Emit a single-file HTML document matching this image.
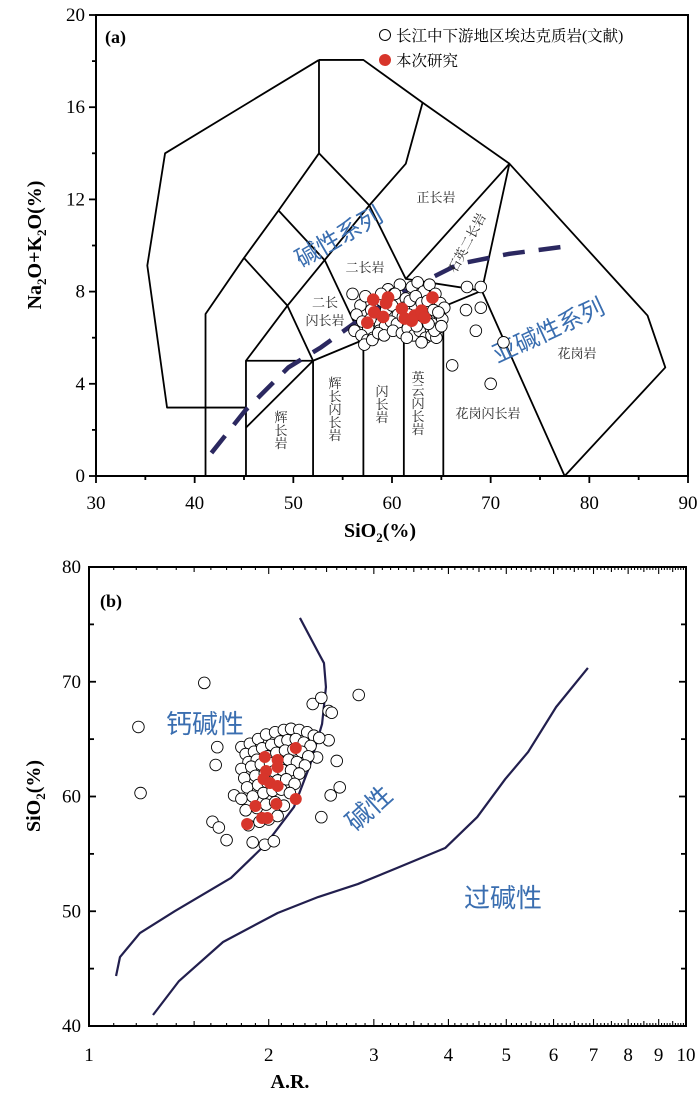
<!DOCTYPE html>
<html><head><meta charset="utf-8"><style>
body{margin:0;background:#fff;}
svg{display:block;}
.t{font-family:"Liberation Serif","Noto Serif CJK SC",serif;}
.cn{font-family:"Liberation Serif","Noto Serif CJK SC",serif;font-size:13px;fill:#222;}
.bl{font-family:"Liberation Sans","Noto Sans CJK SC",sans-serif;fill:#3a6eb0;}
</style></head><body>
<svg id="chart" width="700" height="1094" viewBox="0 0 700 1094" xmlns="http://www.w3.org/2000/svg">
<g id="pa"></g>
<g id="pb"></g>
</svg>
<script>
// ===== Panel (a) data =====
const aXTicks=[30,40,50,60,70,80,90];
const aYTicks=[0,4,8,12,16,20];
const aFieldLines=[
 [[52.6,18.05],[57.1,18.05],[63.1,16.2],[71.9,13.55],[85.9,6.96],[87.7,4.71],[77.5,0]],
 [[52.6,18.05],[37.0,14.0],[35.2,9.13],[37.2,2.97],[45.2,2.97]],
 [[52.6,18.05],[52.6,14.0]],
 [[52.6,14.0],[48.5,11.52],[45.0,9.46],[41.1,7.03],[41.1,0]],
 [[52.6,14.0],[57.7,11.74],[61.4,8.55],[69.1,8.04]],
 [[63.1,16.2],[61.4,13.55],[57.7,11.74]],
 [[71.9,13.55],[61.4,8.55]],
 [[71.9,13.55],[69.1,8.04],[77.5,0]],
 [[48.5,11.52],[53.2,9.35],[56.9,6.0]],
 [[57.7,11.74],[49.4,7.39],[45.2,5.0]],
 [[45.0,9.46],[49.4,7.39],[52.0,5.0]],
 [[52.0,5.0],[69.1,8.04]],
 [[45.2,0],[45.2,5.0],[52.0,5.0]],
 [[45.2,2.1],[52.0,5.0]],
 [[52.0,0],[52.0,5.0]],
 [[57.1,0],[57.1,5.9]],
 [[61.2,0],[61.2,6.63]],
 [[65.2,0],[65.2,7.35]]
];
const aDivSi=[41.7,45.1,49.5,52.8,57.5,61.4,66.8,71.9,77.1];
const aDivAlk=[1.0,2.83,4.71,5.58,7.03,8.04,9.2,9.64,9.93];
const aLitSi=[56.0,56.8,57.3,57.9,58.5,59.0,59.6,60.2,60.8,61.4,62.0,62.6,63.2,63.8,64.4,64.9,65.3,
 56.4,57.0,57.6,58.2,58.8,59.4,60.0,60.6,61.2,61.8,62.4,63.0,63.6,64.2,64.8,
 56.2,56.9,57.5,58.1,58.7,59.3,59.9,60.5,61.1,61.7,62.3,62.9,63.5,64.1,64.6,65.1,
 57.2,58.0,58.6,59.2,60.1,61.0,61.6,62.2,62.8,63.4,64.0,64.5,63.0,62.5,64.3,61.5,60.3,
 58.9,63.7,64.7,65.0,57.8,
 67.6,69.0,67.5,69.0,68.5,71.3,70.0,66.1];
const aLitAlk=[7.9,7.4,7.8,7.2,7.0,7.6,8.1,7.9,8.3,7.7,8.2,8.4,8.0,8.3,7.9,7.5,7.3,
 7.0,6.7,6.4,6.9,6.6,7.2,7.4,7.0,7.3,7.6,7.8,7.5,7.6,7.2,7.0,
 6.3,6.1,5.9,6.0,6.3,6.5,6.7,6.6,6.9,7.0,6.7,6.9,6.8,6.6,6.4,6.8,
 5.7,5.9,6.2,6.1,6.3,6.2,6.4,6.1,6.3,6.0,6.1,6.0,5.8,6.5,6.3,6.0,7.9,
 7.9,6.6,7.1,6.5,6.8,
 8.2,8.2,7.2,7.3,6.3,5.8,4.0,4.8];
const aNewSi=[58.1,59.6,59.4,58.2,57.5,59.1,61.0,61.3,62.3,63.0,63.3,64.1,62.0];
const aNewAlk=[7.65,7.74,7.5,7.1,6.65,6.9,7.26,6.83,6.96,7.17,6.87,7.74,6.74];

// ===== Panel (b) data =====
const bXTicks=[1,2,3,4,5,6,7,8,9,10];
const bYTicks=[40,50,60,70,80];
const bCurve1AR=[2.256,2.419,2.475,2.494,2.457,2.346,2.205,1.979,1.729,1.393,1.217,1.127,1.110];
const bCurve1Si=[75.56,72.59,71.63,69.54,66.32,62.75,59.09,55.86,52.9,50.02,48.1,46.01,44.36];
const bCurve2AR=[6.85,6.06,5.44,4.98,4.47,3.95,3.28,2.82,2.42,2.07,1.677,1.415,1.280];
const bCurve2Si=[71.2,67.8,63.88,61.52,58.21,55.51,53.77,52.37,51.24,49.85,47.32,43.92,40.96];
const bLitAR=[1.56,1.21,1.22,2.83,1.64,1.63,1.75,1.61,1.65,1.70,2.45,2.54,2.63,2.60,2.52,2.37,2.45,2.52,2.55,
 1.80,1.86,1.92,1.98,2.05,2.12,2.18,2.25,2.32,2.38,2.43,
 1.83,1.89,1.95,2.02,2.09,2.15,2.22,2.29,2.35,2.41,
 1.85,1.91,1.99,2.06,2.13,2.20,2.27,2.33,
 1.80,1.87,1.94,2.01,2.08,2.16,2.23,2.30,
 1.82,1.90,1.97,2.04,2.11,2.18,2.25,
 1.84,1.92,1.99,2.07,2.14,2.21,
 1.80,1.88,1.96,2.03,2.10,2.17,
 1.83,1.91,1.98,2.05,2.12,
 1.85,1.93,2.00,2.07,1.88,1.97,2.04];
const bLitSi=[69.9,66.06,60.3,68.85,64.3,62.75,60.1,57.8,57.3,56.2,58.2,60.1,60.8,63.1,64.9,68.06,68.6,67.45,67.3,
 64.3,64.6,65.0,65.4,65.6,65.8,65.9,65.8,65.6,65.3,65.1,
 63.7,63.9,64.2,64.5,64.8,64.9,65.0,64.7,64.4,63.4,
 63.0,63.2,63.5,63.8,64.0,64.1,63.9,63.5,
 62.4,62.6,62.8,62.9,63.1,63.2,63.0,62.7,
 61.6,61.8,62.0,62.2,62.3,62.3,62.0,
 60.8,61.0,61.2,61.4,61.5,61.1,
 59.8,60.0,60.3,60.5,60.6,60.3,
 58.8,59.0,59.3,59.5,59.2,
 57.5,57.8,58.0,58.3,56.0,55.8,56.1];
const bNewAR=[2.22,1.97,2.07,2.07,1.98,1.96,2.01,2.07,2.22,1.90,2.06,1.95,1.99,1.84];
const bNewSi=[64.23,63.44,63.18,62.57,62.22,61.52,61.18,60.92,59.78,59.17,59.35,58.13,58.13,57.6];

const NS='http://www.w3.org/2000/svg';
function mk(parent,tag,attrs,text){const e=document.createElementNS(NS,tag);for(const k in attrs)e.setAttribute(k,attrs[k]);if(text!==undefined)e.textContent=text;parent.appendChild(e);return e;}

// ===== Panel (a) =====
const A={l:96,r:688,t:15,b:476};
const ax=v=>A.l+(v-30)/60*(A.r-A.l);
const ay=v=>A.b-v/20*(A.b-A.t);
const pa=document.getElementById('pa');
aFieldLines.forEach(line=>{
 const p=mk(pa,'polyline',{points:line.map(q=>ax(q[0])+','+ay(q[1])).join(' '),fill:'none',stroke:'#000','stroke-width':1.8,'stroke-linejoin':'round'});
 
 
});
{const p=mk(pa,'polyline',{points:aDivSi.map((s,i)=>ax(s)+','+ay(aDivAlk[i])).join(' '),fill:'none',stroke:'#2b2860','stroke-width':4.5,'stroke-dasharray':'22 14'});
 
 }
const aLabels=[['正长岩',436,202,0],['二长岩',365,272,0],['二长',325,307,0],['闪长岩',325,325,0],['花岗岩',577,358,0],['花岗闪长岩',488,418,0]];
aLabels.forEach(l=>{const t=mk(pa,'text',{x:l[1],y:l[2],class:'cn','text-anchor':'middle'},l[0]);});
const aVLabels=[['辉长岩',280,430],['辉长闪长岩',334,409],['闪长岩',381,404],['英云闪长岩',417,403]];
aVLabels.forEach(l=>{const t=mk(pa,'text',{x:l[1],y:l[2],class:'cn','text-anchor':'middle','writing-mode':'tb','glyph-orientation-vertical':0,'font-size':14},l[0]);});
{const t=mk(pa,'text',{x:0,y:0,class:'cn','text-anchor':'middle',transform:'translate(471,245) rotate(-62)'},'石英二长岩');}
{const t=mk(pa,'text',{x:0,y:0,class:'bl','font-size':24,'text-anchor':'middle',transform:'translate(343,244) rotate(-30)'},'碱性系列');}
{const t=mk(pa,'text',{x:0,y:0,class:'bl','font-size':24,'text-anchor':'middle',transform:'translate(552,338) rotate(-25)'},'亚碱性系列');}
aLitSi.forEach((s,i)=>{const c=mk(pa,'circle',{cx:ax(s),cy:ay(aLitAlk[i]),r:5.8,fill:'#fff',stroke:'#000','stroke-width':0.9});});
aNewSi.forEach((s,i)=>{const c=mk(pa,'circle',{cx:ax(s),cy:ay(aNewAlk[i]),r:6.3,fill:'#d7352b'});});
{const f=mk(pa,'rect',{x:A.l,y:A.t,width:A.r-A.l,height:A.b-A.t,fill:'none',stroke:'#000','stroke-width':2});}
for(let v=30;v<=90;v+=5){mk(pa,'line',{x1:ax(v),x2:ax(v),y1:A.b,y2:A.b+(v%10==0?7:4),stroke:'#000','stroke-width':1.8});}
for(let v=0;v<=20;v+=2){mk(pa,'line',{x1:A.l-(v%4==0?7:4),x2:A.l,y1:ay(v),y2:ay(v),stroke:'#000','stroke-width':1.8});}
aXTicks.forEach(v=>{const t=mk(pa,'text',{x:ax(v),y:A.b+33,class:'t','font-size':19,'text-anchor':'middle'},v);});
aYTicks.forEach(v=>{const t=mk(pa,'text',{x:A.l-11,y:ay(v)+6,class:'t','font-size':19,'text-anchor':'end'},v);});
{const t=mk(pa,'text',{x:380,y:537,class:'t','font-size':20,'font-weight':'bold','text-anchor':'middle'});t.innerHTML='SiO<tspan font-size="13" dy="5">2</tspan><tspan dy="-5">(%)</tspan>';}
{const t=mk(pa,'text',{x:0,y:0,class:'t','font-size':20,'font-weight':'bold','text-anchor':'middle',transform:'translate(41,245) rotate(-90)'});t.innerHTML='Na<tspan font-size="13" dy="5">2</tspan><tspan dy="-5">O+K</tspan><tspan font-size="13" dy="5">2</tspan><tspan dy="-5">O(%)</tspan>';}
{const t=mk(pa,'text',{x:105,y:43,class:'t','font-size':18,'font-weight':'bold'},'(a)');}
{const g=mk(pa,'g',{});
 const c1=mk(g,'circle',{cx:385,cy:35,r:5.5,fill:'#fff',stroke:'#000','stroke-width':1});
 const t1=mk(g,'text',{x:396,y:41,class:'t','font-size':15.5},'长江中下游地区埃达克质岩(文献)');
 const c2=mk(g,'circle',{cx:385,cy:60,r:6,fill:'#d7352b'});
 const t2=mk(g,'text',{x:396,y:66,class:'t','font-size':15.5},'本次研究');}

// ===== Panel (b) =====
const B={l:89,r:686,t:567,b:1026};
const bx=v=>B.l+Math.log10(v)*(B.r-B.l);
const by=v=>B.b-(v-40)/40*(B.b-B.t);
const pb=document.getElementById('pb');
{const p=mk(pb,'polyline',{points:bCurve1AR.map((a,i)=>bx(a)+','+by(bCurve1Si[i])).join(' '),fill:'none',stroke:'#221f4e','stroke-width':2.2,'stroke-linejoin':'round'});}
{const p=mk(pb,'polyline',{points:bCurve2AR.map((a,i)=>bx(a)+','+by(bCurve2Si[i])).join(' '),fill:'none',stroke:'#221f4e','stroke-width':2.2,'stroke-linejoin':'round'});}
{const t=mk(pb,'text',{x:205,y:733,class:'bl','font-size':26,'text-anchor':'middle'},'钙碱性');}
{const t=mk(pb,'text',{x:0,y:0,class:'bl','font-size':26,'text-anchor':'middle',transform:'translate(375,815) rotate(-42)'},'碱性');}
{const t=mk(pb,'text',{x:503,y:907,class:'bl','font-size':26,'text-anchor':'middle'},'过碱性');}
bLitAR.forEach((a,i)=>{const c=mk(pb,'circle',{cx:bx(a),cy:by(bLitSi[i]),r:5.8,fill:'#fff',stroke:'#000','stroke-width':0.9});});
bNewAR.forEach((a,i)=>{const c=mk(pb,'circle',{cx:bx(a),cy:by(bNewSi[i]),r:6,fill:'#d7352b'});});
{const f=mk(pb,'rect',{x:B.l,y:B.t,width:B.r-B.l,height:B.b-B.t,fill:'none',stroke:'#000','stroke-width':2});}
for(let d=1;d<10;d++){for(let k=0;k<10;k++){const val=d+k/10;if(val>=10)break;const X=bx(val);const L=(k==0)?7:(k==5?5:3);
 mk(pb,'line',{x1:X,x2:X,y1:B.b,y2:B.b-L,stroke:'#000','stroke-width':1.1});mk(pb,'line',{x1:X,x2:X,y1:B.t,y2:B.t+L,stroke:'#000','stroke-width':1.1});}}
for(let v=40;v<=80;v+=5){const L=v%10==0?7:5;mk(pb,'line',{x1:B.l,x2:B.l+L,y1:by(v),y2:by(v),stroke:'#000','stroke-width':1.8});mk(pb,'line',{x1:B.r,x2:B.r-L,y1:by(v),y2:by(v),stroke:'#000','stroke-width':1.8});}
bXTicks.forEach(v=>{const t=mk(pb,'text',{x:bx(v),y:B.b+35,class:'t','font-size':19,'text-anchor':'middle'},v);});
bYTicks.forEach(v=>{const t=mk(pb,'text',{x:B.l-8,y:by(v)+6,class:'t','font-size':19,'text-anchor':'end'},v);});
{const t=mk(pb,'text',{x:290,y:1088,class:'t','font-size':20,'font-weight':'bold','text-anchor':'middle'},'A.R.');}
{const t=mk(pb,'text',{x:0,y:0,class:'t','font-size':20,'font-weight':'bold','text-anchor':'middle',transform:'translate(40,796) rotate(-90)'});t.innerHTML='SiO<tspan font-size="13" dy="5">2</tspan><tspan dy="-5">(%)</tspan>';}
{const t=mk(pb,'text',{x:100,y:607,class:'t','font-size':18,'font-weight':'bold'},'(b)');}
</script>
</body></html>
